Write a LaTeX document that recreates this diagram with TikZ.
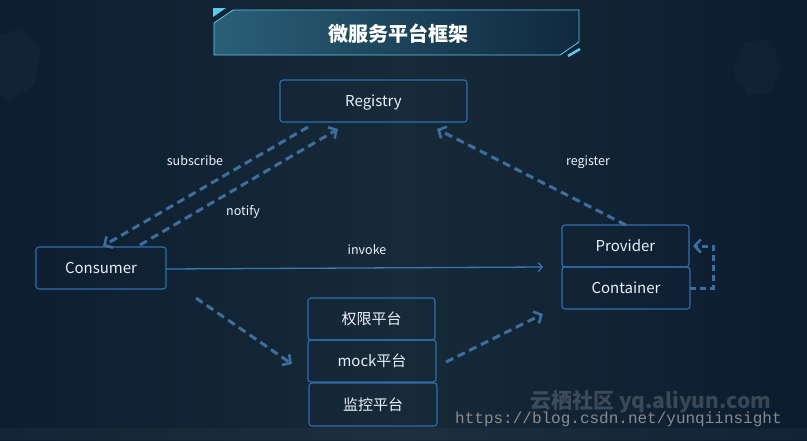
\documentclass[tikz,border=0pt]{standalone}
\usepackage{fontspec}
\newfontfamily\cjk{Noto Sans CJK SC}
\newfontfamily\wmono{Liberation Mono}
\usetikzlibrary{arrows.meta,shapes.geometric}
\definecolor{bgL}{HTML}{0C1E30}
\definecolor{bgM}{HTML}{172A38}
\definecolor{bgR}{HTML}{0A1C2F}
\definecolor{boxline}{HTML}{2F6FB0}
\definecolor{dashc}{HTML}{3D6E9E}
\definecolor{invc}{HTML}{3A78B8}
\definecolor{txt}{HTML}{EAF2FA}
\definecolor{titleL}{HTML}{2A5F78}
\definecolor{titleR}{HTML}{10293E}
\definecolor{titleline}{HTML}{5FC8EE}
\tikzset{
  box/.style={draw=boxline, line width=1.1pt, rounded corners=3pt, text=txt,
    font=\cjk\fontsize{15}{18}\selectfont, inner sep=0pt, text height=11pt, text depth=0pt},
  dashedge/.style={draw=dashc, line width=3pt, dash pattern=on 8pt off 5pt,
    -{Straight Barb[length=6pt,width=13pt,line width=2.6pt]}},
  lbl/.style={text=txt, font=\cjk\fontsize{12.5}{15}\selectfont, inner sep=0pt, text height=9pt, text depth=0pt}
}
\begin{document}
\begin{tikzpicture}[x=1pt,y=-1pt]
\useasboundingbox (0,0) rectangle (807,440);
% background
\shade[left color=bgL, right color=bgR, middle color=bgM] (0,0) rectangle (807,440);
\fill[color=white, opacity=0.025] (0,35) -- (20,28) -- (40,48) -- (35,85) -- (10,100) -- (0,95) -- cycle;
\fill[color=white, opacity=0.02] (745,42) -- (770,40) -- (782,65) -- (772,92) -- (748,96) -- (732,70) -- cycle;
\fill[color=white, opacity=0.03] (0,428) rectangle (807,440);
% title
\shade[left color=titleL, right color=titleR]
  (214,23) -- (233,10) -- (579,10) -- (579,42) -- (560,55) -- (214,55) -- cycle;
\draw[titleline, line width=0.8pt]
  (214,23) -- (233,10) -- (579,10) -- (579,42) -- (560,55) -- (214,55) -- cycle;
\fill[titleline] (213,8) -- (226,8) -- (213,17) -- cycle;
\draw[titleline, line width=2.5pt] (568,56) -- (580,49);
\node[text=white, font=\cjk\bfseries\fontsize{20}{24}\selectfont, inner sep=0pt, text height=16pt, text depth=0pt] (title) at (398,33) {微服务平台框架};
% nodes
\node[box, minimum width=187pt, minimum height=42pt] (reg) at (373.5,101) {Registry};
\node[box, minimum width=130pt, minimum height=42pt] (con) at (101,268) {Consumer};
\node[box, minimum width=127pt, minimum height=42pt] (prov) at (625.5,246) {Provider};
\node[box, minimum width=128pt, minimum height=42pt] (cont) at (626,288) {Container};
\node[box, minimum width=127pt, minimum height=42pt] (qx) at (371.5,319) {权限平台};
\node[box, minimum width=128pt, minimum height=42pt] (mock) at (372,361) {mock平台};
\node[box, minimum width=128pt, minimum height=43pt] (jk) at (373,404.5) {监控平台};
% coordinates
\coordinate (subS) at (308,127);
\coordinate (subE) at (103,246);
\coordinate (notS) at (140,245);
\coordinate (notE) at (338,129);
\coordinate (regS) at (626,225);
\coordinate (regE) at (437,129);
\coordinate (invS) at (166,269);
\coordinate (invE) at (543,267);
\coordinate (loopS) at (690,288);
\coordinate (loopE) at (693,246);
\coordinate (cmS) at (196,298);
\coordinate (cmE) at (292,364);
\coordinate (mpS) at (446,362);
\coordinate (mpE) at (543,314);
% edges
\draw[dashedge] (subS) -- (subE);
\draw[dashedge] (notS) -- (notE);
\draw[dashedge] (regS) -- (regE);
\draw[draw=invc, line width=1.3pt, -{Straight Barb[length=4pt,width=9pt,line width=1.2pt]}] (invS) -- (invE);
\draw[dashedge, dash pattern=on 6pt off 4pt] (loopS) -- (713,288) -- (713,246) -- (loopE);
\draw[dashedge] (cmS) -- (cmE);
\draw[dashedge] (mpS) -- (mpE);
% labels
\node[lbl] (lsub) at (195,161) {subscribe};
\node[lbl] (lnot) at (243,211) {notify};
\node[lbl] (linv) at (367,250) {invoke};
\node[lbl] (lreg) at (588,161) {register};
% watermark
\node[text=white, opacity=0.18, font=\cjk\bfseries\fontsize{21}{24}\selectfont, inner sep=0pt, text height=15pt, text depth=0pt, anchor=west] (wm1) at (530,401) {云栖社区 yq.aliyun.com};
\node[text=gray!70, opacity=0.8, font=\wmono\fontsize{16}{18}\selectfont, inner sep=0pt, text height=10pt, text depth=0pt, anchor=west] (wm2) at (455,418) {https://blog.csdn.net/yunqiinsight};
\end{tikzpicture}
\end{document}
